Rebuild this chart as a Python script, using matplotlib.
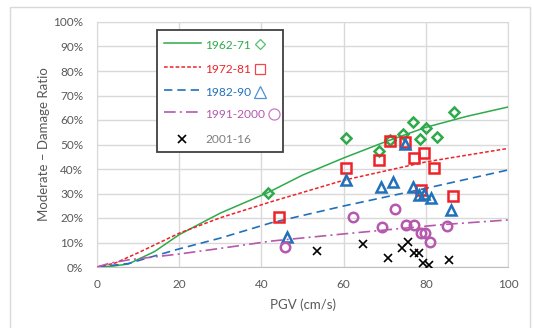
import matplotlib
matplotlib.use('Agg')
import matplotlib.pyplot as plt
from matplotlib.patches import Rectangle
from matplotlib.lines import Line2D
from matplotlib.ticker import FuncFormatter

plt.rcParams['font.family'] = ['Lato', 'DejaVu Sans']

# fitted curves (PGV cm/s, ratio %)
curve_x_6271 = [0, 4, 7.6, 14, 20, 30, 41.5, 50, 60, 70, 80, 90, 100]
curve_y_6271 = [0, 0.4, 1.2, 6.3, 13.2, 22, 30.3, 37.5, 44.5, 51, 57, 61.5, 65.3]
curve_x_7281 = [0, 4.4, 10, 20, 30, 42.5, 60, 80, 100]
curve_y_7281 = [0, 1.6, 5.8, 13.8, 20.1, 26.7, 35.4, 42.9, 48.4]
curve_x_8290 = [0, 7.6, 14, 20, 30, 42.5, 60, 80, 100]
curve_y_8290 = [0, 1.4, 4.5, 7.4, 11.8, 18.1, 24.9, 32.1, 39.6]
curve_x_9100 = [0, 3, 7.6, 20, 30, 42.5, 60, 84, 100]
curve_y_9100 = [0, 1.5, 2.9, 5.3, 7.6, 10.6, 13.5, 17.3, 19.2]

# observed points
pts_x_6271 = [41.7, 60.7, 68.5, 71.4, 74.5, 76.8, 78.7, 80.0, 82.8, 86.9]
pts_y_6271 = [30.3, 52.5, 47.5, 51.8, 54.3, 59.2, 52.4, 56.6, 53.2, 63.1]
pts_x_7281 = [44.2, 60.5, 68.7, 71.4, 74.9, 77.1, 79.6, 82.1, 78.8, 86.6]
pts_y_7281 = [20.3, 40.5, 43.7, 51.6, 50.9, 44.4, 46.5, 40.5, 31.5, 29.0]
pts_x_8290 = [46.2, 60.7, 69.0, 71.9, 74.9, 77.0, 78.4, 79.6, 81.3, 86.2]
pts_y_8290 = [12.4, 35.5, 32.8, 34.8, 50.2, 32.8, 29.2, 29.8, 28.0, 23.2]
pts_x_9100 = [45.7, 62.3, 69.4, 72.4, 75.3, 77.2, 78.8, 79.8, 81.1, 85.2]
pts_y_9100 = [8.3, 20.3, 16.2, 23.8, 17.0, 17.0, 14.0, 14.0, 10.1, 16.9]
pts_x_0116 = [53.6, 64.8, 70.9, 74.1, 75.7, 77.2, 78.4, 79.4, 80.8, 85.6]
pts_y_0116 = [6.7, 9.4, 3.5, 7.6, 10.3, 5.6, 5.6, 1.8, 0.8, 2.9]

labels = ['1962-71', '1972-81', '1982-90', '1991-2000', '2001-16']

green = '#2EAA4A'
red = '#EE2228'
blue = '#2170BA'
magenta = '#B558AE'

fig = plt.figure(figsize=(5.34, 3.28), dpi=100)
ax = fig.add_axes([97 / 534, 61 / 328, 411 / 534, 245 / 328])

ax.plot(curve_x_6271, curve_y_6271, color=green, lw=1.1, zorder=3)
ax.plot(curve_x_7281, curve_y_7281, color=red, lw=1.1, dashes=(2.4, 1.4), zorder=3)
ax.plot(curve_x_8290, curve_y_8290, color=blue, lw=1.2, dashes=(5, 3), zorder=3)
ax.plot(curve_x_9100, curve_y_9100, color=magenta, lw=1.2, dashes=(7, 2.5, 1.2, 2.5), zorder=3)

mk = dict(ls='none', fillstyle='none', mew=1.8, zorder=4)
ax.plot(pts_x_6271, pts_y_6271, marker='D', ms=5.4, color=green, **mk)
ax.plot(pts_x_7281, pts_y_7281, marker='s', ms=6.6, color=red, **mk)
ax.plot(pts_x_8290, pts_y_8290, marker='^', ms=7.4, color=blue, **mk)
ax.plot(pts_x_9100, pts_y_9100, marker='o', ms=6.8, color=magenta, **mk)
ax.plot(pts_x_0116, pts_y_0116, marker='x', ms=5.8, mew=1.2, color='black', ls='none', zorder=4)

ax.set_xlim(0, 100)
ax.set_ylim(0, 100)
ax.set_xticks(range(0, 101, 20))
ax.set_yticks(range(0, 101, 10))
ax.yaxis.set_major_formatter(FuncFormatter(lambda v, p: '%d%%' % v))
ax.grid(True, color='#D9D9D9', lw=1)
ax.set_axisbelow(True)
for s in ax.spines.values():
    s.set_color('#D9D9D9')
ax.spines['bottom'].set_color('#BFBFBF')
ax.tick_params(length=0, labelsize=8.5, labelcolor='#595959')
ax.tick_params(axis='x', pad=9)
ax.tick_params(axis='y', pad=10)

ax.set_xlabel('PGV (cm/s)', fontsize=9.5, color='#595959')
ax.xaxis.set_label_coords(0.5, -0.13)
ax.set_ylabel('Moderate \u2013 Damage Ratio', fontsize=9.5, color='#595959')
ax.yaxis.set_label_coords(-0.115, 0.5)

# legend box drawn by hand (Excel style, marker after the label)
ax.add_patch(Rectangle((0.146, 0.469), 0.307, 0.498, transform=ax.transAxes,
                       facecolor='white', edgecolor='#404040', lw=1.3, zorder=6))
row_y = [0.906, 0.806, 0.712, 0.622, 0.521]
line_styles = [dict(color=green, lw=1.1),
               dict(color=red, lw=1.1, dashes=(2.4, 1.4)),
               dict(color=blue, lw=1.2, dashes=(5, 3)),
               dict(color=magenta, lw=1.2, dashes=(7, 2.5, 1.2, 2.5))]
text_cols = [green, red, blue, magenta, '#808080']
sym_cols = ['#55C06E', '#F0464C', '#4F93D3', '#C979C4']
sym_marks = [('D', 5.6), ('s', 7.0), ('^', 8.0), ('o', 8.0)]
texts = []
for i, lab in enumerate(labels):
    y = row_y[i]
    if i < 4:
        ax.add_line(Line2D([0.163, 0.253], [y + 0.01, y + 0.01], transform=ax.transAxes,
                           zorder=7, **line_styles[i]))
    else:
        ax.plot([0.206], [y], transform=ax.transAxes, marker='x', ms=5.8, mew=1.2,
                color='black', zorder=7)
    texts.append(ax.text(0.263, y, lab, transform=ax.transAxes, fontsize=8.6,
                         color=text_cols[i], va='center', ha='left', zorder=7))

fig.canvas.draw()
r = fig.canvas.get_renderer()
for i in range(4):
    bb = texts[i].get_window_extent(r)
    xa = ax.transAxes.inverted().transform((bb.x1 + 9, 0))[0]
    ax.plot([xa], [row_y[i] + 0.004], transform=ax.transAxes, marker=sym_marks[i][0],
            ms=sym_marks[i][1], mew=0.9, fillstyle='none', color=sym_cols[i],
            ls='none', zorder=7, clip_on=False)

# outer chart frame
fig.patches.append(Rectangle((10 / 534, -0.05), 520 / 534, 1.05 - 7 / 328,
                             transform=fig.transFigure, fill=False,
                             ec='#D9D9D9', lw=1))

fig.savefig('out.png', dpi=100)
